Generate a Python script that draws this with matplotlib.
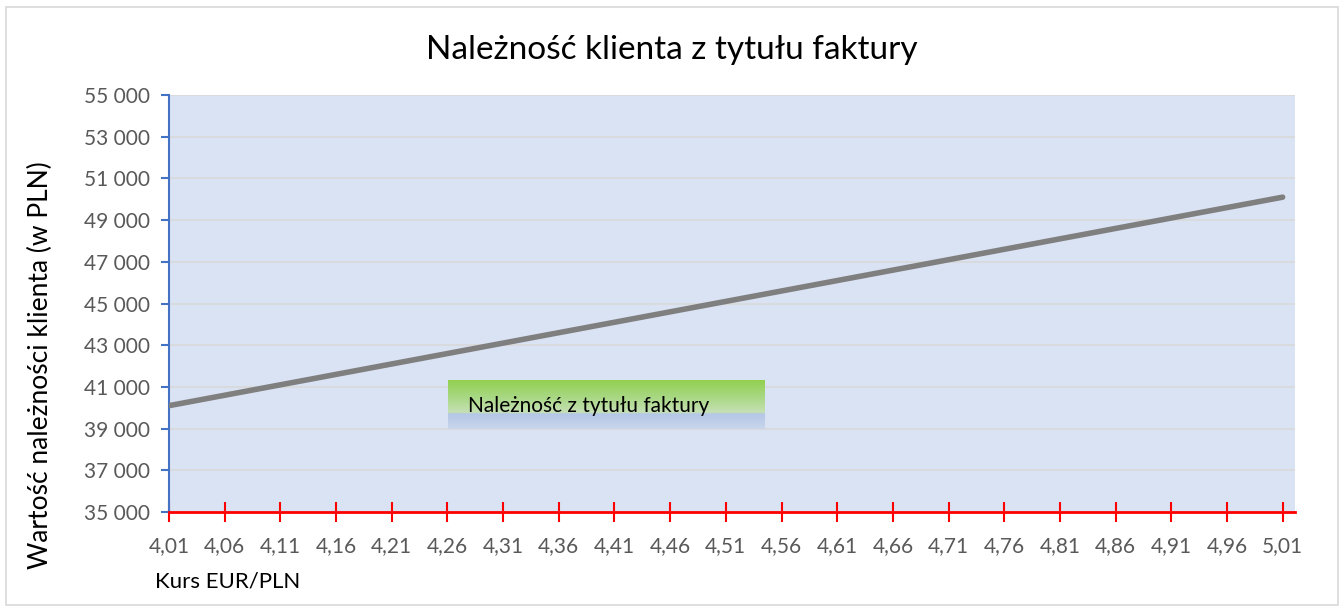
import matplotlib
matplotlib.use('Agg')
import matplotlib.pyplot as plt
import numpy as np
from matplotlib.colors import LinearSegmentedColormap
from matplotlib.ticker import FuncFormatter
from matplotlib.patches import Rectangle

plt.rcParams['font.family'] = ['Lato', 'DejaVu Sans']

# kurs EUR/PLN i naleznosc w PLN
kurs = [4.01, 4.06, 4.11, 4.16, 4.21, 4.26, 4.31, 4.36, 4.41, 4.46, 4.51,
        4.56, 4.61, 4.66, 4.71, 4.76, 4.81, 4.86, 4.91, 4.96, 5.01]
naleznosc = [40100, 40600, 41100, 41600, 42100, 42600, 43100, 43600, 44100, 44600, 45100,
             45600, 46100, 46600, 47100, 47600, 48100, 48600, 49100, 49600, 50100]
x_labels = ['4,01', '4,06', '4,11', '4,16', '4,21', '4,26', '4,31', '4,36', '4,41', '4,46', '4,51',
            '4,56', '4,61', '4,66', '4,71', '4,76', '4,81', '4,86', '4,91', '4,96', '5,01']
y_ticks = [35000, 37000, 39000, 41000, 43000, 45000, 47000, 49000, 51000, 53000, 55000]

fig = plt.figure(figsize=(13.44, 6.10), dpi=100)
ax = fig.add_axes([169/1344, 1 - 512/610, (1295-169)/1344, (512-95)/610])

# outer border of the chart area
fig.patches.append(Rectangle((6/1344, 1 - 605/610), 1332/1344, 598/610, transform=fig.transFigure,
                             fill=False, edgecolor='#d9d9d9', lw=1.2))

ax.set_facecolor('#dae3f3')
ax.plot(kurs, naleznosc, color='#7f7f7f', lw=4, solid_capstyle='round', zorder=3)

ax.set_xlim(4.01, 5.0211)
ax.set_ylim(35000, 55000)
ax.set_yticks(y_ticks)
ax.yaxis.set_major_formatter(FuncFormatter(lambda v, p: f'{int(v):,}'.replace(',', ' ')))
ax.set_xticks(kurs)
ax.set_xticklabels(x_labels)
ax.grid(axis='y', color='#d9d9d9', lw=1.2)
ax.set_axisbelow(True)

for s in ['top', 'right']:
    ax.spines[s].set_visible(False)
ax.spines['left'].set_color('#4472c4')
ax.spines['left'].set_linewidth(1.5)
ax.spines['bottom'].set_color('#ff0000')
ax.spines['bottom'].set_linewidth(2)
ax.spines['bottom'].set_zorder(4)

ax.tick_params(axis='y', colors='#4472c4', length=6, width=1.5, labelcolor='#595959',
               labelsize=15, pad=8)
ax.tick_params(axis='x', colors='#ff0000', direction='inout', length=14, width=1.5,
               labelcolor='#595959', labelsize=15, pad=10)

fig.text(0.5, 1 - 50/610, 'Należność klienta z tytułu faktury', fontsize=24, color='#000000',
         ha='center', va='center')
fig.text(40/1344, 1 - 365/610, 'Wartość należności klienta (w PLN)', fontsize=19, color='#000000',
         rotation=90, ha='center', va='center')
fig.text(155/1344, 1 - 582/610, 'Kurs EUR/PLN', fontsize=16, va='center', ha='left')

# legend-like box with gradient
lax = fig.add_axes([448/1344, 1 - 429/610, 317/1344, 49/610])
cmap = LinearSegmentedColormap.from_list('leg', [(0, '#92d050'), (0.35, '#a9d884'),
                                                 (0.66, '#c6e0b4'), (0.70, '#b4c7e7'),
                                                 (1.0, '#c9d6ec')])
lax.imshow(np.linspace(0, 1, 100).reshape(-1, 1), aspect='auto', cmap=cmap, extent=[0, 1, 0, 1])
lax.set_axis_off()
lax.text(20/317, 0.47, 'Należność z tytułu faktury', fontsize=15, va='center', ha='left', color='#000000')

fig.savefig('out.png', dpi=100)
